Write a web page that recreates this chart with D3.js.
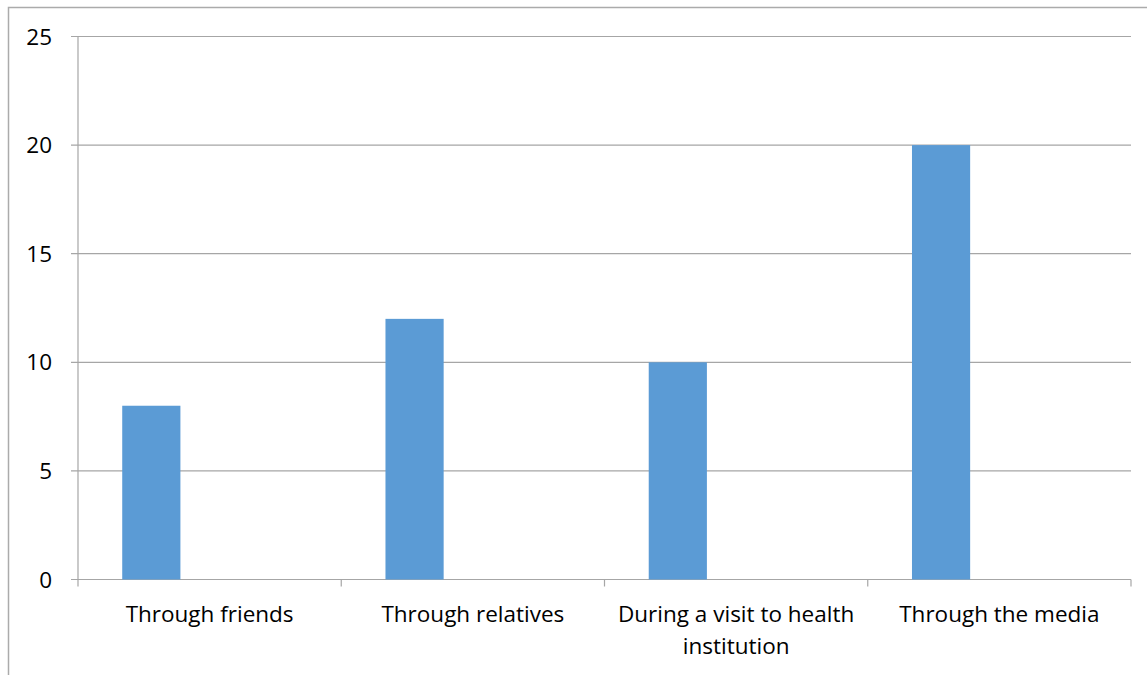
<!DOCTYPE html>
<html><head><meta charset="utf-8">
<script src="https://cdn.jsdelivr.net/npm/d3@7"></script>
<style>body{margin:0;background:#fff;}svg{display:block;}</style>
</head><body>
<svg id="c" width="1147" height="675"></svg>
<script>
const categories = ["Through friends", "Through relatives", "During a visit to health institution", "Through the media"];
const values = [8, 12, 10, 20];
const yTicks = [0, 5, 10, 15, 20, 25];

const svg = d3.select("#c");
const font = "'Open Sans', sans-serif";
const fs = 22.5;
svg.append("rect").attr("x", 8.5).attr("y", 7.5).attr("width", 1200).attr("height", 700)
  .attr("fill", "none").attr("stroke", "#ababab").attr("stroke-width", 1.5);

const x = d3.scaleBand().domain(categories).range([78, 1131]).padding(0);
const y = d3.scaleLinear().domain([0, 25]).range([579.5, 36.5]);

svg.append("g").selectAll("line").data(yTicks).join("line")
  .attr("x1", 71).attr("x2", 1131).attr("y1", d => y(d)).attr("y2", d => y(d))
  .attr("stroke", "#a6a6a6").attr("stroke-width", 1.2);

svg.append("line").attr("x1", 78).attr("x2", 78).attr("y1", y(25)).attr("y2", y(0))
  .attr("stroke", "#a6a6a6").attr("stroke-width", 1.2);

svg.append("g").selectAll("text").data(yTicks).join("text")
  .attr("x", 52).attr("y", d => y(d)).attr("dy", "0.36em").attr("text-anchor", "end")
  .attr("font-family", font).attr("font-size", fs).attr("fill", "#000").text(d => d);

const bw = x.bandwidth();
svg.append("g").selectAll("rect").data(values).join("rect")
  .attr("x", (d, i) => x(categories[i]) + bw * 0.168)
  .attr("width", bw * 0.221)
  .attr("y", d => y(d)).attr("height", d => y(0) - y(d))
  .attr("fill", "#5b9bd5");

const bounds = categories.map(c => x(c)).concat([1131]);
svg.append("g").selectAll("line").data(bounds).join("line")
  .attr("x1", d => d).attr("x2", d => d).attr("y1", y(0)).attr("y2", y(0) + 7)
  .attr("stroke", "#a6a6a6").attr("stroke-width", 1.2);

const lab = svg.append("g");
categories.forEach(c => {
  const t = lab.append("text").attr("text-anchor", "middle")
    .attr("font-family", font).attr("font-size", fs).attr("fill", "#000");
  const cx = x(c) + bw / 2;
  const words = c.split(" ");
  let lines = [], cur = [];
  const tmp = t.append("tspan");
  words.forEach(w => {
    cur.push(w);
    tmp.text(cur.join(" "));
    if (tmp.node().getComputedTextLength() > 258 && cur.length > 1) {
      cur.pop(); lines.push(cur.join(" ")); cur = [w];
    }
  });
  lines.push(cur.join(" "));
  tmp.remove();
  lines.forEach((l, i) => {
    t.append("tspan").attr("x", cx).attr("y", 622 + i * 32).text(l);
  });
});
</script>
</body></html>
